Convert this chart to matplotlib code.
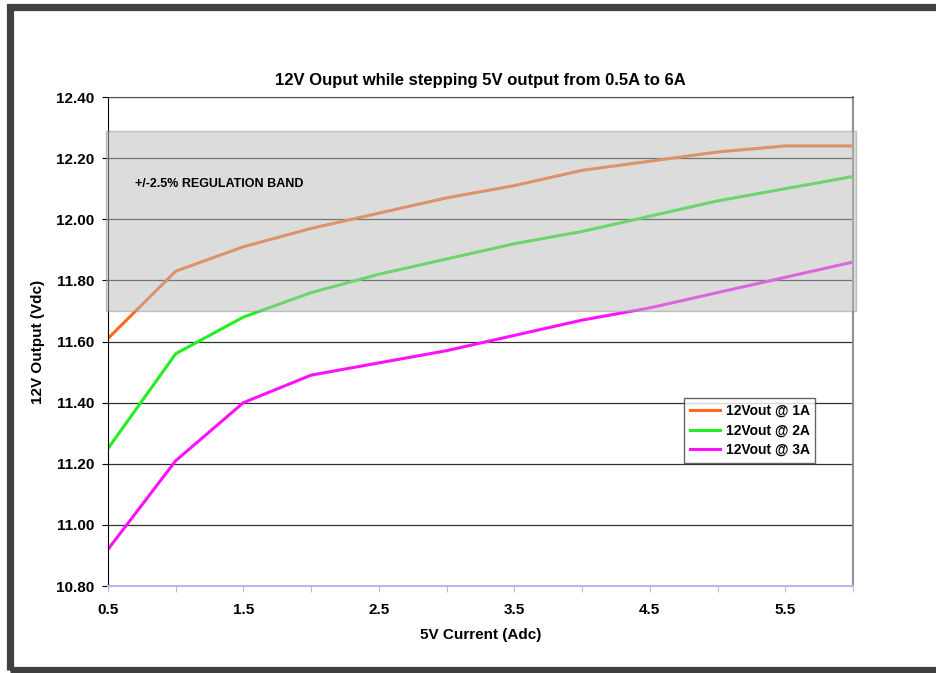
import numpy as np
import matplotlib.pyplot as plt
from matplotlib.patches import Rectangle

plt.rcParams['font.family'] = ['Liberation Sans', 'DejaVu Sans']
plt.rcParams['font.weight'] = 'bold'

current = [0.5, 1, 1.5, 2, 2.5, 3, 3.5, 4, 4.5, 5, 5.5, 6]
v_1a = [11.61, 11.83, 11.91, 11.97, 12.02, 12.07, 12.11, 12.16, 12.19, 12.22, 12.24, 12.24]
v_2a = [11.25, 11.56, 11.68, 11.76, 11.82, 11.87, 11.92, 11.96, 12.01, 12.06, 12.10, 12.14]
v_3a = [10.92, 11.21, 11.40, 11.49, 11.53, 11.57, 11.62, 11.67, 11.71, 11.76, 11.81, 11.86]
labels = ['12Vout @ 1A', '12Vout @ 2A', '12Vout @ 3A']
colors = ['#ff6a1a', '#22ee22', '#ff10ff']
band_lo, band_hi = 11.70, 12.29


def main():
    fig = plt.figure(figsize=(9.36, 6.73), dpi=100)
    # dark frame around the chart
    fig.patches.append(Rectangle((9.5 / 936, 3 / 673), 1.0, 663.5 / 673,
                                 transform=fig.transFigure, fill=False,
                                 edgecolor='#404040', linewidth=5.2))

    ax = fig.add_axes([108 / 936, 87 / 673, 745 / 936, 489 / 673])
    for y, c, lab in zip([v_1a, v_2a, v_3a], colors, labels):
        ax.plot(current, y, color=c, linewidth=2.2, label=lab, zorder=2)

    # semi-transparent regulation band drawn over the lines
    band = Rectangle((-0.003, band_lo), 1.007, band_hi - band_lo,
                     transform=ax.get_yaxis_transform(), facecolor='#bbbbbb',
                     edgecolor='#909090', linewidth=1, alpha=0.5, zorder=3,
                     clip_on=False)
    ax.add_patch(band)
    ax.text(0.7, 12.115, '+/-2.5% REGULATION BAND', fontsize=9,
            fontweight='bold', va='center', zorder=4)

    ax.set_xlim(0.5, 6)
    ax.set_ylim(10.8, 12.4)
    ax.set_xticks(np.arange(0.5, 6.01, 0.5))
    ax.set_xticklabels(['0.5', '', '1.5', '', '2.5', '', '3.5', '', '4.5', '', '5.5', ''])
    ax.set_yticks(np.arange(10.8, 12.41, 0.2))
    ax.set_yticklabels(['%.2f' % v for v in np.arange(10.8, 12.41, 0.2)])
    ax.yaxis.grid(True, color='#303030', linewidth=0.9, zorder=1)
    ax.set_axisbelow(True)
    ax.tick_params(axis='y', direction='out', length=4, labelsize=11, pad=6)
    ax.tick_params(axis='x', direction='out', length=4, color='#b8b8e8',
                   labelsize=11, pad=8)
    ax.spines['left'].set_color('black')
    ax.spines['bottom'].set_color('#b8b8e8')
    ax.spines['bottom'].set_linewidth(1.5)
    ax.spines['right'].set_color('#909090')
    ax.spines['right'].set_linewidth(1.5)
    ax.spines['top'].set_color('#505050')

    ax.set_title("12V Ouput while stepping 5V output from 0.5A to 6A",
                 fontsize=12, fontweight='bold', pad=9)
    ax.set_xlabel('5V Current (Adc)', fontsize=11, fontweight='bold', labelpad=8)
    ax.set_ylabel('12V Output (Vdc)', fontsize=11, fontweight='bold', labelpad=8)

    leg = ax.legend(loc='upper left', bbox_to_anchor=(0.764, 0.398), fontsize=10,
                    frameon=True, fancybox=False, edgecolor='#404040',
                    handlelength=2.2, borderpad=0.4, labelspacing=0.4,
                    handletextpad=0.4, borderaxespad=0.5)
    leg.get_frame().set_linewidth(1.0)
    leg.set_zorder(5)
    for t in leg.get_texts():
        t.set_fontweight('bold')

    fig.savefig('out.png', dpi=100)


if __name__ == '__main__': main()
